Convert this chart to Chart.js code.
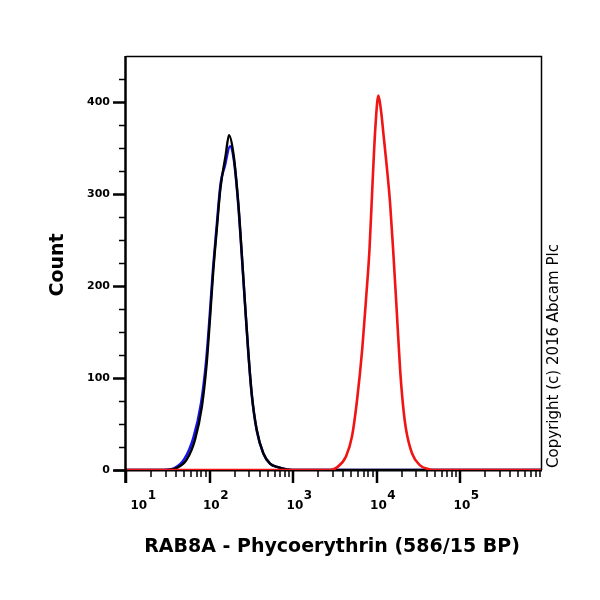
<!DOCTYPE html>
<html>
<head>
<meta charset="utf-8">
<script src="https://cdn.jsdelivr.net/npm/chart.js@4.4.1/dist/chart.umd.min.js"></script>
<style>
  html, body { margin: 0; padding: 0; background: #fff; }
  canvas { display: block; }
</style>
</head>
<body>
<canvas id="c" width="600" height="600"></canvas>
<script>
// ---- Data ----
const blackX      = [10, 30, 40, 53, 67, 81, 92.5, 101, 111, 122, 135, 156, 171, 193, 221, 243, 266, 292, 320, 367, 441, 530, 661, 847, 973, 930000];
const blackCounts = [0, 0, 2, 11, 33, 69, 116, 163, 217, 261, 306, 342, 364, 344, 290, 236, 181, 127, 83, 44, 18, 7, 3, 0.5, 0, 0];

const blueX       = [10, 28, 38, 50, 64, 79, 91, 100, 110, 121, 136, 152, 176, 195, 221, 243, 266, 292, 320, 367, 441, 530, 661, 847, 973, 930000];
const blueCounts  = [0, 0, 2, 12, 35, 72, 118, 165, 218, 262, 312, 330, 352, 338, 288, 234, 180, 126, 82, 43, 18, 7, 3, 0.5, 0, 0];

const redX        = [10, 2773, 3365, 4315, 5090, 5870, 6740, 7480, 8240, 8960, 9680, 10510, 11320, 12060, 13240, 14510, 15770, 17380, 19110, 20750, 22540, 26600, 33200, 41400, 47500, 930000];
const redCounts   = [0, 0, 3, 15, 37, 78, 132, 186, 241, 313, 373, 407, 390, 366, 330, 290, 240, 175, 110, 70, 44, 18, 5, 1, 0, 0];

const yTickValues    = [0, 100, 200, 300, 400];
const yTickLabels    = ['0', '100', '200', '300', '400'];
const xTickExponents = [1, 2, 3, 4, 5];
const xTitle = 'RAB8A - Phycoerythrin (586/15 BP)';
const yTitle = 'Count';
const copyrightText = 'Copyright (c) 2016 Abcam Plc';

const xMin = 10, xMax = 930000, yMin = 0, yMax = 450;

function pts(xs, ys) { return xs.map((x, i) => ({ x: x, y: ys[i] })); }

const FONT = '"DejaVu Sans", Verdana, sans-serif';

const flowAxes = {
  id: 'flowAxes',
  beforeDatasetsDraw(chart) {
    const c = chart.ctx, a = chart.chartArea;
    c.save();
    c.strokeStyle = '#000';
    c.lineWidth = 1.5;
    c.beginPath();
    c.moveTo(a.left, a.top + 0.5); c.lineTo(a.right + 0.5, a.top + 0.5);
    c.lineTo(a.right + 0.5, a.bottom);
    c.stroke();
    c.lineWidth = 2;
    c.beginPath();
    c.moveTo(a.left - 12, a.bottom + 0.5); c.lineTo(a.right + 1, a.bottom + 0.5);
    c.stroke();
    c.restore();
  },
  afterDatasetsDraw(chart) {
    const c = chart.ctx, a = chart.chartArea;
    const xs = chart.scales.x, ys = chart.scales.y;
    c.save();
    c.strokeStyle = '#000';
    c.fillStyle = '#000';
    c.lineWidth = 2.5;
    c.beginPath();
    c.moveTo(a.left - 0.5, a.top); c.lineTo(a.left - 0.5, a.bottom + 13);
    c.stroke();

    for (let v = yMin; v < yMax; v += 25) {
      const y = Math.round(ys.getPixelForValue(v)) + 0.5;
      const major = yTickValues.includes(v);
      c.lineWidth = major ? 2.5 : 1.5;
      c.beginPath();
      c.moveTo(a.left - (major ? 13 : 7), y); c.lineTo(a.left, y);
      c.stroke();
    }
    c.font = 'bold 11px ' + FONT;
    c.textAlign = 'right';
    c.textBaseline = 'middle';
    yTickValues.forEach((v, i) => {
      c.fillText(yTickLabels[i], a.left - 16, ys.getPixelForValue(v));
    });

    const lo = Math.floor(Math.log10(xMin)), hi = Math.ceil(Math.log10(xMax));
    for (let d = lo; d <= hi; d++) {
      for (let k = 1; k <= 9; k++) {
        const v = k * Math.pow(10, d);
        if (v < xMin || v > xMax) continue;
        const x = Math.round(xs.getPixelForValue(v));
        const major = k === 1;
        c.lineWidth = major ? 2.5 : 1.5;
        c.beginPath();
        c.moveTo(x, a.bottom); c.lineTo(x, a.bottom + (major ? 13 : 7));
        c.stroke();
      }
    }
    c.textAlign = 'left';
    c.textBaseline = 'alphabetic';
    xTickExponents.forEach(e => {
      const x = xs.getPixelForValue(Math.pow(10, e));
      c.font = 'bold 12px ' + FONT;
      const w1 = c.measureText('10').width;
      const w2 = c.measureText(String(e)).width;
      const cx = Math.max(x + 6, a.left + 17);
      const left = cx - (w1 + w2) / 2;
      c.fillText('10', left, a.bottom + 39);
      c.fillText(String(e), left + w1 + 0.5, a.bottom + 29);
    });

    c.font = 'bold 19px ' + FONT;
    c.textAlign = 'center';
    c.textBaseline = 'alphabetic';
    c.fillText(xTitle, 332, 552);

    c.save();
    c.translate(62.5, 265);
    c.rotate(-Math.PI / 2);
    c.fillText(yTitle, 0, 0);
    c.restore();

    c.save();
    c.font = '15px ' + FONT;
    c.translate(557.5, 356);
    c.rotate(-Math.PI / 2);
    c.textAlign = 'center';
    c.fillText(copyrightText, 0, 0);
    c.restore();

    c.restore();
  }
};

// Chart.js draws the first dataset on top: red, then black, then blue underneath
new Chart(document.getElementById('c'), {
  type: 'line',
  data: {
    datasets: [
      { label: 'Red', data: pts(redX, redCounts), borderColor: '#f01414', borderWidth: 2.6, pointRadius: 0, cubicInterpolationMode: 'monotone', fill: false },
      { label: 'Black', data: pts(blackX, blackCounts), borderColor: '#000000', borderWidth: 2.4, pointRadius: 0, cubicInterpolationMode: 'monotone', fill: false },
      { label: 'Blue', data: pts(blueX, blueCounts), borderColor: '#1414f0', borderWidth: 2.5, pointRadius: 0, cubicInterpolationMode: 'monotone', fill: false }
    ]
  },
  options: {
    responsive: false,
    animation: false,
    devicePixelRatio: 1,
    layout: { padding: { left: 126, right: 59, top: 56, bottom: 130 } },
    plugins: { legend: { display: false }, tooltip: { enabled: false } },
    scales: {
      x: { type: 'logarithmic', min: xMin, max: xMax, display: false },
      y: { type: 'linear', min: yMin, max: yMax, display: false }
    }
  },
  plugins: [flowAxes]
});
</script>
</body>
</html>
